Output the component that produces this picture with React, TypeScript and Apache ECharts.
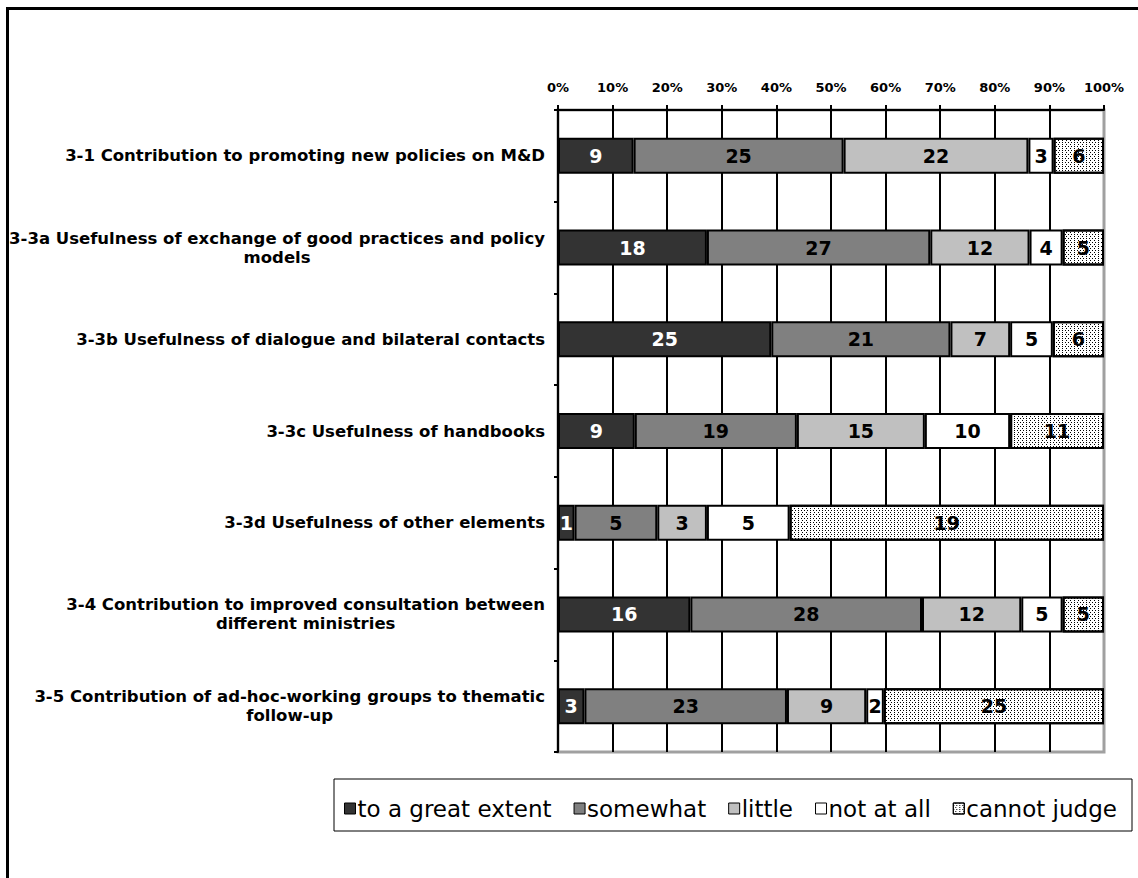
import React, { useEffect, useRef } from "react";
import * as echarts from "echarts";

// Survey items, top to bottom
const categories = [
  "3-1 Contribution to promoting new policies on M&D",
  "3-3a Usefulness of exchange of good practices and policy\nmodels",
  "3-3b Usefulness of dialogue and bilateral contacts",
  "3-3c Usefulness of handbooks",
  "3-3d Usefulness of other elements",
  "3-4 Contribution to improved consultation between\ndifferent ministries",
  "3-5 Contribution of ad-hoc-working groups to thematic\nfollow-up",
];

const seriesNames = ["to a great extent", "somewhat", "little", "not at all", "cannot judge"];

// Number of answers per item
const greatExtent = [9, 18, 25, 9, 1, 16, 3];
const somewhat = [25, 27, 21, 19, 5, 28, 23];
const little = [22, 12, 7, 15, 3, 12, 9];
const notAtAll = [3, 4, 5, 10, 5, 5, 2];
const cannotJudge = [6, 5, 6, 11, 19, 5, 25];

const seriesColors = ["#333333", "#808080", "#c0c0c0", "#ffffff", "#ffffff"];
const labelColors = ["#ffffff", "#000000", "#000000", "#000000", "#000000"];

const LABEL_FONT = "'DejaVu Sans', sans-serif";

export default function App() {
  const ref = useRef<HTMLDivElement>(null);

  useEffect(() => {
    if (!ref.current) return;
    const chart = echarts.init(ref.current, undefined, { renderer: "svg" });

    const counts = [greatExtent, somewhat, little, notAtAll, cannotJudge];
    const totals = categories.map((_, i) => counts.reduce((s, arr) => s + arr[i], 0));

    const series = counts.map((arr, k) => ({
      name: seriesNames[k],
      type: "bar",
      stack: "share",
      barWidth: 36,
      data: arr.map((c, i) => ({ value: (c / totals[i]) * 100, count: c })),
      itemStyle: {
        color: seriesColors[k],
        borderColor: "#000",
        borderWidth: 2,
        ...(k === 4
          ? {
              decal: {
                symbol: "rect",
                symbolSize: 1,
                color: "#000",
                dashArrayX: [
                  [1, 2],
                  [0, 1.5, 1, 0.5],
                ],
                dashArrayY: [1, 1],
              },
            }
          : {}),
      },
      label: {
        show: true,
        position: "inside",
        fontFamily: LABEL_FONT,
        fontWeight: "bold",
        fontSize: 19,
        color: labelColors[k],
        formatter: (p: any) => String(p.data.count),
      },
      emphasis: { disabled: true },
    }));

    chart.setOption({
      animation: false,
      backgroundColor: "#ffffff",
      grid: {
        left: 558,
        right: 34,
        top: 110,
        bottom: 126,
        show: true,
        borderColor: "#a0a0a0",
        borderWidth: 3,
        backgroundColor: "transparent",
      },
      xAxis: {
        type: "value",
        position: "top",
        min: 0,
        max: 100,
        interval: 10,
        axisLine: { show: true, lineStyle: { color: "#000", width: 2 } },
        axisTick: { show: true, length: 5, lineStyle: { color: "#000", width: 2 } },
        axisLabel: {
          formatter: "{value}%",
          fontFamily: LABEL_FONT,
          fontWeight: "bold",
          fontSize: 13,
          color: "#000",
          margin: 16,
        },
        splitLine: {
          show: true,
          showMaxLine: false,
          lineStyle: { color: "#000", width: 2 },
        },
      },
      yAxis: {
        type: "category",
        data: categories,
        inverse: true,
        axisLine: { show: true, lineStyle: { color: "#000", width: 2 } },
        axisTick: { show: true, length: 4, lineStyle: { color: "#000", width: 2 } },
        axisLabel: {
          color: "#000",
          margin: 13,
          fontFamily: LABEL_FONT,
          fontWeight: "bold",
          fontSize: 16.5,
          lineHeight: 19,
          formatter: (v: string) =>
            v
              .split("\n")
              .map((l) => `{c|${l}}`)
              .join("\n"),
          rich: {
            c: {
              align: "center",
              fontFamily: LABEL_FONT,
              fontWeight: "bold",
              fontSize: 16.5,
              lineHeight: 19,
              color: "#000",
            },
          },
        },
      },
      legend: {
        data: seriesNames,
        left: 339,
        top: 792,
        itemWidth: 11,
        itemHeight: 11,
        itemGap: 22,
        icon: "rect",
        itemStyle: { borderColor: "#000", borderWidth: 1 },
        textStyle: { fontFamily: LABEL_FONT, fontSize: 23, color: "#000", padding: [0, 0, 0, -3] },
        selectedMode: false,
      },
      graphic: [
        // outer frame (top and left edges)
        {
          type: "line",
          shape: { x1: 7, y1: 8.5, x2: 1138, y2: 8.5 },
          style: { stroke: "#000", lineWidth: 3 },
          silent: true,
        },
        {
          type: "line",
          shape: { x1: 7.5, y1: 7, x2: 7.5, y2: 878 },
          style: { stroke: "#000", lineWidth: 3 },
          silent: true,
        },
        // legend box
        {
          type: "rect",
          shape: { x: 334, y: 779, width: 798, height: 52 },
          style: { fill: "none", stroke: "#000", lineWidth: 1 },
          silent: true,
        },
      ],
      series,
    });

    return () => chart.dispose();
  }, []);

  return (
    <div
      ref={ref}
      style={{ position: "absolute", left: 0, top: 0, width: 1138, height: 878, background: "#fff" }}
    />
  );
}
